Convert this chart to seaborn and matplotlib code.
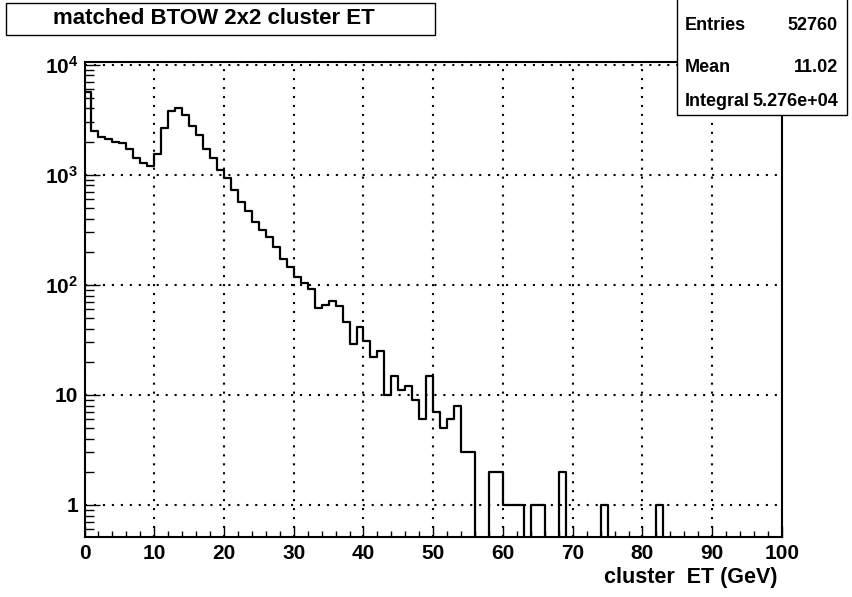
import numpy as np
import pandas as pd
import matplotlib
matplotlib.use("Agg")
import matplotlib.pyplot as plt
import matplotlib.ticker as mticker
from matplotlib.patches import Rectangle
import seaborn as sns

# ---- data (1 GeV bins from 0 to 100) ----
bin_lo = 0
bin_hi = 100
n_bins = 100
counts = [
    5600, 2500, 2200, 2100, 2000, 1930, 1700, 1410, 1285, 1210,
    1530, 2670, 3790, 4010, 3490, 2790, 2290, 1710, 1430, 1100,
    940, 730, 560, 471, 371, 314, 270, 219, 171, 146,
    118, 104, 91, 62, 66, 72, 64, 46, 29, 41,
    31, 22, 25, 10, 15, 11, 12, 9, 6, 15,
    7, 5, 6, 8, 3, 3, 0, 0, 2, 2,
    1, 1, 1, 0, 1, 1, 0, 0, 2, 0,
    0, 0, 0, 0, 1, 0, 0, 0, 0, 0,
    0, 0, 1, 0, 0, 0, 0, 0, 0, 0,
    0, 0, 0, 0, 0, 0, 0, 0, 0, 0,
]
x_ticks = [0, 10, 20, 30, 40, 50, 60, 70, 80, 90, 100]
y_ticks = [1, 10, 100, 1000, 10000]
y_tick_labels = ["1", "10", r"$10^{2}$", r"$10^{3}$", r"$10^{4}$"]
title = "matched BTOW 2x2 cluster ET"
x_label = "cluster  ET (GeV)"
stats_names = ["Entries", "Mean", "Integral"]
stats_values = ["52760", "11.02", "5.276e+04"]

plt.rcParams["font.family"] = ["Liberation Sans", "DejaVu Sans"]
plt.rcParams["font.weight"] = "bold"
plt.rcParams["mathtext.fontset"] = "custom"
plt.rcParams["mathtext.rm"] = "Liberation Sans:bold"
plt.rcParams["mathtext.bf"] = "Liberation Sans:bold"
plt.rcParams["mathtext.it"] = "Liberation Sans:bold"
plt.rcParams["mathtext.default"] = "bf"

W, H = 852, 597
fig = plt.figure(figsize=(W / 100, H / 100), dpi=100)
L, R, T, B = 84.5, 782, 62, 537
ax = fig.add_axes([L / W, 1 - B / H, (R - L) / W, (B - T) / H])

binwidth = (bin_hi - bin_lo) / n_bins
centers = bin_lo + binwidth * (np.arange(n_bins) + 0.5)
df = pd.DataFrame({"et": centers, "n": np.array(counts, dtype=float)})
sns.histplot(data=df, x="et", weights="n", binwidth=binwidth,
             binrange=(bin_lo, bin_hi), element="step",
             fill=False, color="black", linewidth=1.6, ax=ax)

ax.set_yscale("log")
ax.set_xlim(bin_lo, bin_hi)
ax.set_ylim(0.512, 1.058e4)

ax.xaxis.set_major_locator(mticker.FixedLocator(x_ticks))
ax.xaxis.set_minor_locator(mticker.MultipleLocator(2))
ax.xaxis.set_major_formatter(mticker.FixedFormatter([str(t) for t in x_ticks]))
ax.yaxis.set_major_locator(mticker.FixedLocator(y_ticks))
ax.yaxis.set_major_formatter(mticker.FixedFormatter(y_tick_labels))
ax.yaxis.set_minor_locator(mticker.LogLocator(base=10, subs=np.arange(2, 10)))
ax.yaxis.set_minor_formatter(mticker.NullFormatter())

ax.tick_params(axis="both", which="both", direction="in", top=False, right=False,
               width=1.0, colors="black", labelsize=15)
ax.tick_params(axis="x", which="major", length=8, pad=5.0)
ax.tick_params(axis="x", which="minor", length=4.3)
ax.tick_params(axis="y", which="major", length=10.8, pad=4.5)
ax.tick_params(axis="y", which="minor", length=6.5)
for lab in ax.get_xticklabels() + ax.get_yticklabels():
    lab.set_fontweight("bold")

for s in ax.spines.values():
    s.set_linewidth(1.5)
    s.set_color("black")

ax.grid(True, which="major", color="black", linestyle=(0, (1.0, 3.3)), linewidth=1.5)
ax.set_axisbelow(False)
ax.set_xlabel("")
ax.set_ylabel("")

fig.text(778 / W, 1 - 578 / H, x_label, ha="right", va="center",
         fontsize=15.5, fontweight="bold")

# title box
fig.add_artist(Rectangle((6 / W, 1 - 34.5 / H), (435 - 6) / W, (34.5 - 2.5) / H,
                         transform=fig.transFigure, facecolor="white",
                         edgecolor="black", linewidth=1.0, zorder=5))
fig.text(214 / W, 1 - 18.5 / H, title, ha="center", va="center",
         fontsize=16, fontweight="bold", zorder=6)

# stats box
fig.add_artist(Rectangle((677 / W, 1 - 115 / H), (847 - 677) / W, (115 + 2) / H,
                         transform=fig.transFigure, facecolor="white",
                         edgecolor="black", linewidth=1.0, zorder=5))
rows_y = [25, 67, 102]
for name, val, yy in zip(stats_names, stats_values, rows_y):
    fig.text(685 / W, 1 - yy / H, name, ha="left", va="center",
             fontsize=13, fontweight="bold", zorder=6)
    fig.text(838 / W, 1 - yy / H, val, ha="right", va="center",
             fontsize=13, fontweight="bold", zorder=6)

fig.savefig("out.png", dpi=100)
